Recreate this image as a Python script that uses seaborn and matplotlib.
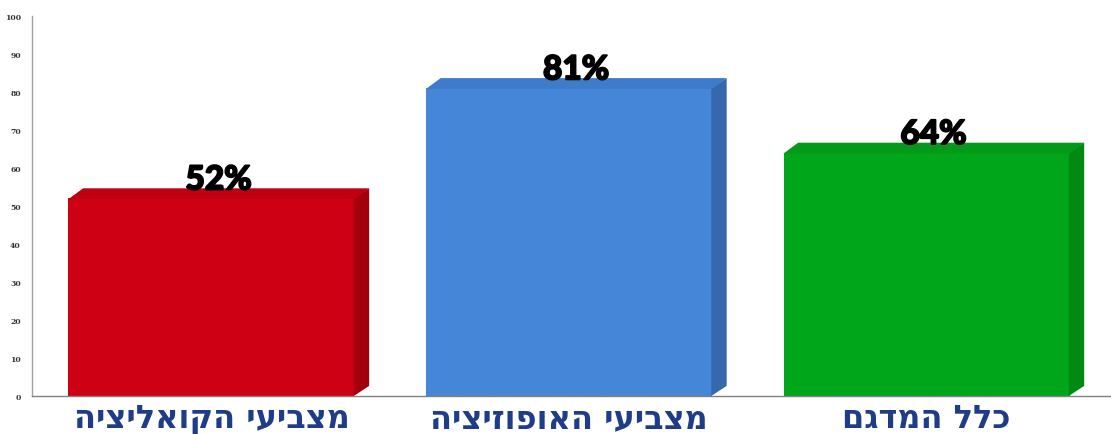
import seaborn as sns
import matplotlib.pyplot as plt
import matplotlib.patheffects as pe
from matplotlib.patches import Polygon

# data
groups = ['מצביעי הקואליציה', 'מצביעי האופוזיציה', 'כלל המדגם']
values = [52, 81, 64]
front_colors = ['#CE0014', '#4686D9', '#00A619']
side_colors = ['#A3000E', '#3668AC', '#008A14']
top_colors = ['#BF0012', '#3F7BCB', '#05991A']
y_ticks = list(range(0, 101, 10))

sns.set_style('white')
plt.rcParams['font.family'] = ['DejaVu Sans']

fig = plt.figure(figsize=(11.11, 4.35), dpi=100)
ax = fig.add_axes([0.0288, 0.0874, 0.9712, 0.8736])

# matplotlib has no bidi support, so reverse the hebrew strings for display
shown = [g[::-1] for g in groups]
sns.barplot(x=shown, y=values, hue=shown, palette=front_colors, legend=False,
            width=0.8, saturation=1, linewidth=0, ax=ax, zorder=2)

ax.set_xlim(-0.502, 2.516)
ax.set_ylim(0, 100)

# fake 3d: side and top faces, offset to the upper right
dx, dy = 0.041, 2.65
for bar, sc, tc, v in zip(ax.patches, side_colors, top_colors, values):
    x0 = bar.get_x()
    x1 = x0 + bar.get_width()
    h = bar.get_height()
    ax.add_patch(Polygon([(x1 - 0.002, 0), (x1 + dx, dy), (x1 + dx, h + dy), (x1 - 0.002, h)],
                         closed=True, facecolor=sc, edgecolor='none', zorder=2))
    ax.add_patch(Polygon([(x0, h - 0.2), (x0 + dx, h + dy), (x1 + dx, h + dy), (x1, h - 0.2)],
                         closed=True, facecolor=tc, edgecolor='none', zorder=2))
    ax.text(x0 + bar.get_width() / 2 + 0.02, h + 1.0, f'{v}%', ha='center', va='bottom',
            fontsize=24, fontweight='black', family=['Lato', 'DejaVu Sans'],
            color='black', zorder=3,
            path_effects=[pe.withStroke(linewidth=1.3, foreground='black')])

ax.set_yticks(y_ticks)
ax.set_yticklabels([str(t) for t in y_ticks], fontsize=5.5, color='#333333',
                   family=['DejaVu Serif'], fontweight='bold')
ax.tick_params(axis='y', length=0, pad=8)
ax.tick_params(axis='x', length=0, pad=5)
for lab in ax.get_xticklabels():
    lab.set_fontsize(23)
    lab.set_fontweight('bold')
    lab.set_color('#1F3C88')

ax.set_xlabel('')
ax.set_ylabel('')
sns.despine(ax=ax, top=True, right=True)
ax.spines['left'].set_color('#A0A0A0')
ax.spines['bottom'].set_color('#808080')
ax.spines['left'].set_linewidth(1)
ax.spines['bottom'].set_linewidth(1)

fig.savefig('out.png', dpi=100)
